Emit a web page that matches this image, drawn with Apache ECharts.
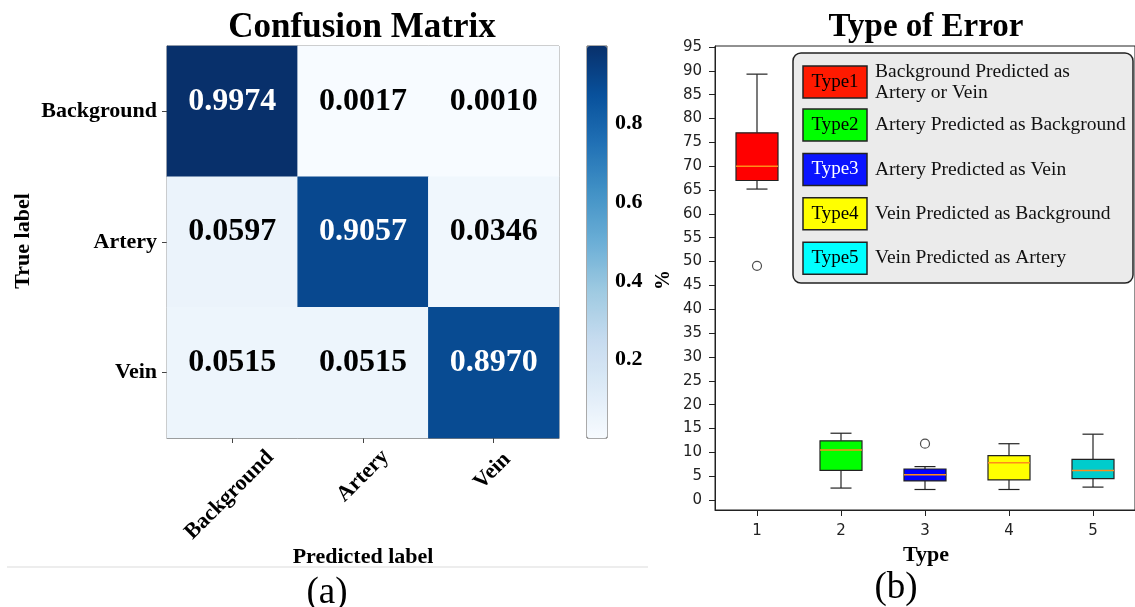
<!DOCTYPE html>
<html lang="en">
<head>
<meta charset="utf-8">
<title>Confusion Matrix / Type of Error</title>
<script src="https://cdn.jsdelivr.net/npm/echarts@6/dist/echarts.min.js"></script>
<style>
  html, body { margin: 0; padding: 0; background: #fff; }
  #main { width: 1135px; height: 607px; }
</style>
</head>
<body>
<div id="main"></div>
<script>
// --- (a) confusion matrix ---
var classNames = ['Background', 'Artery', 'Vein'];
var rowBackground = [0.9974, 0.0017, 0.0010];
var rowArtery = [0.0597, 0.9057, 0.0346];
var rowVein = [0.0515, 0.0515, 0.8970];
var colorbarTicks = [0.2, 0.4, 0.6, 0.8];

// --- (b) type of error, box plot stats (%) ---
var typeNames = ['1', '2', '3', '4', '5'];
var boxLow = [65.2, 2.5, 2.2, 2.2, 2.7];
var boxQ1 = [67.0, 6.2, 4.0, 4.2, 4.5];
var boxMedian = [70.0, 10.5, 5.3, 7.8, 6.2];
var boxQ3 = [77.0, 12.4, 6.5, 9.3, 8.5];
var boxHigh = [89.3, 14.0, 7.0, 11.8, 13.8];
var outlierType = [0, 2];
var outlierValue = [49.1, 11.8];
var percentTicks = [0, 5, 10, 15, 20, 25, 30, 35, 40, 45, 50, 55, 60, 65, 70, 75, 80, 85, 90, 95];

var legendNames = ['Type1', 'Type2', 'Type3', 'Type4', 'Type5'];
var legendLines = [
    ['Background Predicted as', 'Artery or Vein'],
    ['Artery Predicted as Background'],
    ['Artery Predicted as Vein'],
    ['Vein Predicted as Background'],
    ['Vein Predicted as Artery']
];

var blues = ['#f7fbff', '#deebf7', '#c6dbef', '#9ecae1', '#6baed6', '#4292c6', '#2171b5', '#08519c', '#08306b'];
var boxColors = ['#ff0000', '#00ff00', '#0000ff', '#ffff00', '#00cccc'];
var swatchColors = ['#ff1a00', '#00ff00', '#0a14ff', '#ffff00', '#00ffff'];
var serif = '"Liberation Serif", "Times New Roman", serif';
var sans = '"DejaVu Sans", sans-serif';

var chart = echarts.init(document.getElementById('main'));

// heatmap cells
var rows = [rowBackground, rowArtery, rowVein];
var cells = [];
rows.forEach(function (row, i) {
    row.forEach(function (v, j) {
        cells.push({ value: [j, i, v], label: { color: v > 0.5 ? '#fff' : '#000' } });
    });
});

var boxData = typeNames.map(function (t, i) {
    return [i, boxLow[i], boxQ1[i], boxMedian[i], boxQ3[i], boxHigh[i]];
});
var outlierData = outlierType.map(function (t, i) { return [t, outlierValue[i]]; });

function renderBox(params, api) {
    var i = api.value(0);
    var lo = api.coord([i, api.value(1)]);
    var q1 = api.coord([i, api.value(2)]);
    var md = api.coord([i, api.value(3)]);
    var q3 = api.coord([i, api.value(4)]);
    var hi = api.coord([i, api.value(5)]);
    var band = api.size([1, 0])[0];
    var bw = band * 0.5, cw = band * 0.25;
    var cx = lo[0];
    var ink = { stroke: '#222', lineWidth: 1.2 };
    return {
        type: 'group',
        children: [
            { type: 'line', shape: { x1: cx, y1: lo[1], x2: cx, y2: q1[1] }, style: ink },
            { type: 'line', shape: { x1: cx, y1: q3[1], x2: cx, y2: hi[1] }, style: ink },
            { type: 'line', shape: { x1: cx - cw / 2, y1: lo[1], x2: cx + cw / 2, y2: lo[1] }, style: ink },
            { type: 'line', shape: { x1: cx - cw / 2, y1: hi[1], x2: cx + cw / 2, y2: hi[1] }, style: ink },
            { type: 'rect', shape: { x: cx - bw / 2, y: q3[1], width: bw, height: q1[1] - q3[1] },
              style: { fill: boxColors[params.dataIndex], stroke: '#222', lineWidth: 1.2 } },
            { type: 'line', shape: { x1: cx - bw / 2, y1: md[1], x2: cx + bw / 2, y2: md[1] },
              style: { stroke: '#ff8c1a', lineWidth: 1.5 } }
        ]
    };
}

// legend of panel (b)
var legendEls = [{
    type: 'rect', shape: { x: 793, y: 53, width: 340, height: 230, r: 8 },
    style: { fill: '#ebebeb', stroke: '#222', lineWidth: 1.5 }
}];
legendNames.forEach(function (name, i) {
    var cy = i === 0 ? 82 : 125 + 44.4 * (i - 1);
    legendEls.push({
        type: 'rect', shape: { x: 803, y: cy - 16, width: 64, height: 32 },
        style: { fill: swatchColors[i], stroke: '#222', lineWidth: 1.5 }
    });
    legendEls.push({
        type: 'text', x: 835, y: cy,
        style: { text: name, fontFamily: serif, fontSize: 19, fill: i === 2 ? '#fff' : '#000', align: 'center', verticalAlign: 'middle' }
    });
    legendEls.push({
        type: 'text', x: 875, y: cy,
        style: { text: legendLines[i].join('\n'), fontFamily: serif, fontSize: 19.5, lineHeight: 21, fill: '#111', align: 'left', verticalAlign: 'middle' }
    });
});

function label(text, x, y, size, bold, rot) {
    return {
        type: 'text', x: x, y: y, rotation: rot || 0,
        style: { text: text, fontFamily: serif, fontSize: size, fontWeight: bold ? 'bold' : 'normal', fill: '#000', align: 'center', verticalAlign: 'middle' }
    };
}

var option = {
    animation: false,
    backgroundColor: '#fff',
    grid: [
        { left: 167, top: 46, width: 392, height: 392, show: true, borderColor: '#7f7f7f', borderWidth: 1 },
        { left: 587, top: 46, width: 20, height: 392, show: true, borderColor: '#555', borderWidth: 1 },
        { left: 715, top: 46, width: 423, height: 464, show: true, borderColor: '#222', borderWidth: 1 }
    ],
    xAxis: [
        {
            type: 'category', gridIndex: 0, data: classNames,
            axisLine: { show: true, onZero: false, lineStyle: { color: '#7f7f7f' } },
            axisTick: { show: true, alignWithLabel: true, length: 5, lineStyle: { color: '#444' } },
            axisLabel: {
                rotate: 45, margin: 38, align: 'center', verticalAlign: 'middle',
                fontFamily: serif, fontSize: 22, fontWeight: 'bold', color: '#000',
                formatter: function (v) { return '{' + v.slice(0, 2) + '|' + v + '}'; },
                rich: {
                    Ba: { fontFamily: serif, fontSize: 22, fontWeight: 'bold', padding: [23, 31, 0, 0] },
                    Ar: { fontFamily: serif, fontSize: 22, fontWeight: 'bold' },
                    Ve: { fontFamily: serif, fontSize: 22, fontWeight: 'bold', padding: [0, 0, 9, 5] }
                }
            }
        },
        { type: 'value', gridIndex: 1, min: 0, max: 1, show: false },
        {
            type: 'category', gridIndex: 2, data: typeNames,
            axisLine: { show: true, onZero: false, lineStyle: { color: '#222' } },
            axisTick: { show: true, alignWithLabel: true, length: 6, lineStyle: { color: '#222' } },
            axisLabel: { margin: 14, fontFamily: sans, fontSize: 15, color: '#222' }
        }
    ],
    yAxis: [
        {
            type: 'category', gridIndex: 0, data: classNames, inverse: true,
            axisLine: { show: true, onZero: false, lineStyle: { color: '#7f7f7f' } },
            axisTick: { show: true, alignWithLabel: true, length: 5, lineStyle: { color: '#444' } },
            axisLabel: { margin: 10, fontFamily: serif, fontSize: 22, fontWeight: 'bold', color: '#000' }
        },
        {
            type: 'value', gridIndex: 1, position: 'right', min: 0.001, max: 0.9974,
            axisLine: { show: false },
            splitLine: { show: false },
            axisTick: { show: true, length: 4, customValues: colorbarTicks, lineStyle: { color: '#333' } },
            axisLabel: { margin: 8, customValues: colorbarTicks, fontFamily: serif, fontSize: 22, fontWeight: 'bold', color: '#000' }
        },
        {
            type: 'value', gridIndex: 2, min: -2.1, max: 95.2,
            axisLine: { show: true, onZero: false, lineStyle: { color: '#222' } },
            splitLine: { show: false },
            axisTick: { show: true, length: 6, customValues: percentTicks, lineStyle: { color: '#222' } },
            axisLabel: { margin: 13, customValues: percentTicks, fontFamily: sans, fontSize: 15, color: '#222' }
        }
    ],
    visualMap: {
        type: 'continuous', min: 0.001, max: 0.9974, seriesIndex: 0,
        calculable: false, hoverLink: false, show: true,
        left: 587, top: 46, itemWidth: 20, itemHeight: 392, padding: 0,
        inRange: { color: blues }
    },
    series: [
        {
            type: 'heatmap', xAxisIndex: 0, yAxisIndex: 0, data: cells,
            label: {
                show: true, fontFamily: serif, fontSize: 32, fontWeight: 'bold', offset: [0, -10],
                formatter: function (p) { return p.value[2].toFixed(4); }
            },
            emphasis: { disabled: true }
        },
        {
            type: 'custom', xAxisIndex: 2, yAxisIndex: 2, data: boxData,
            encode: { x: 0, y: [1, 2, 3, 4, 5] },
            renderItem: renderBox
        },
        {
            type: 'scatter', xAxisIndex: 2, yAxisIndex: 2, data: outlierData,
            symbol: 'circle', symbolSize: 9,
            itemStyle: { color: 'rgba(0,0,0,0)', borderColor: '#222', borderWidth: 1.2 }
        }
    ],
    graphic: [
        label('Confusion Matrix', 362, 28, 35, true),
        label('True label', 23, 241, 22, true, Math.PI / 2),
        label('Predicted label', 363, 557, 22, true),
        label('(a)', 327, 593, 37, false),
        { type: 'line', shape: { x1: 7, y1: 567, x2: 648, y2: 567 }, style: { stroke: '#ededed', lineWidth: 2 } },
        label('Type of Error', 926, 27.5, 33, true),
        label('%', 664, 280, 20, true, Math.PI / 2),
        label('Type', 926, 555, 22, true),
        label('(b)', 896, 588, 37, false)
    ].concat(legendEls)
};

chart.setOption(option);
</script>
</body>
</html>
